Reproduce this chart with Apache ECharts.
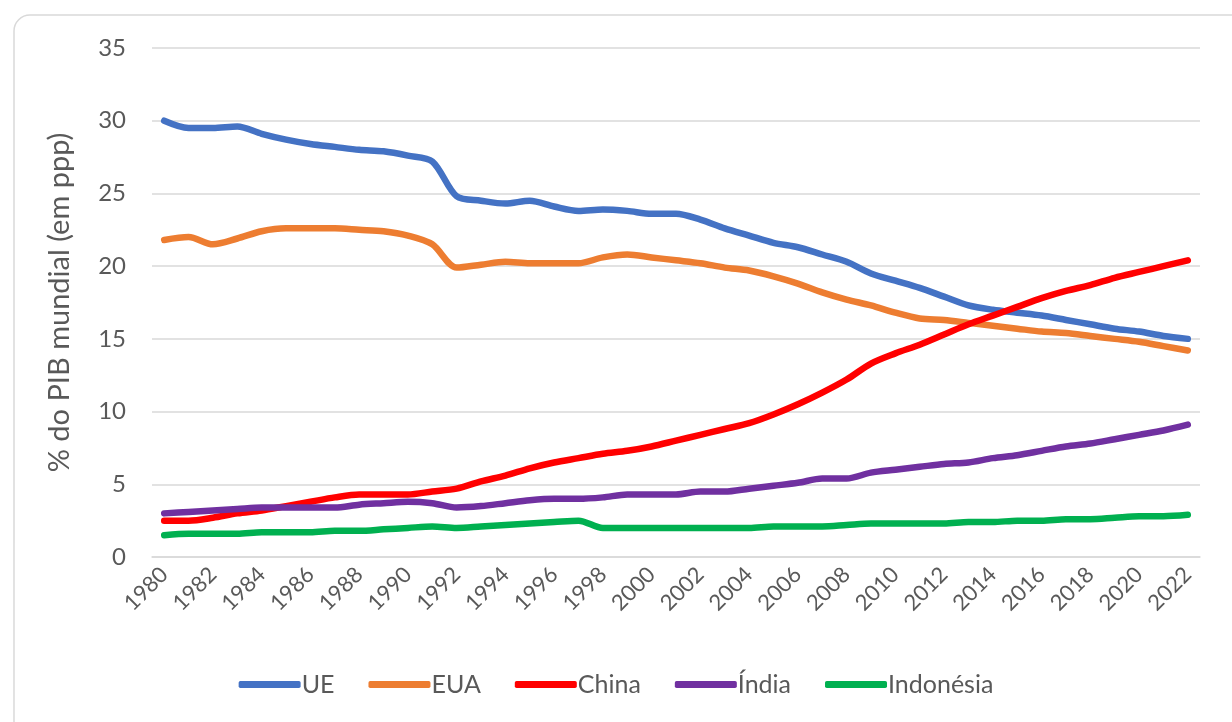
<!DOCTYPE html>
<html>
<head>
<meta charset="utf-8">
<script src="https://cdn.jsdelivr.net/npm/echarts@6/dist/echarts.min.js"></script>
<style>
  html, body { margin: 0; padding: 0; background: #fff; }
  #chart { width: 1232px; height: 722px; }
</style>
</head>
<body>
<div id="chart"></div>
<script>
// anos 1980..2022
var years = [];
for (var y = 1980; y <= 2022; y++) years.push(String(y));

var ue = [30.0, 29.5, 29.5, 29.6, 29.1, 28.7, 28.4, 28.2, 28.0, 27.9, 27.6, 27.2,
  24.8, 24.5, 24.3, 24.5, 24.1, 23.8, 23.9, 23.8, 23.6, 23.6, 23.2, 22.6, 22.1,
  21.6, 21.3, 20.8, 20.3, 19.5, 19.0, 18.5, 17.9, 17.3, 17.0, 16.8, 16.6, 16.3,
  16.0, 15.7, 15.5, 15.2, 15.0];
var eua = [21.8, 22.0, 21.5, 21.9, 22.4, 22.6, 22.6, 22.6, 22.5, 22.4, 22.1, 21.5,
  19.9, 20.1, 20.3, 20.2, 20.2, 20.2, 20.6, 20.8, 20.6, 20.4, 20.2, 19.9, 19.7,
  19.3, 18.8, 18.2, 17.7, 17.3, 16.8, 16.4, 16.3, 16.1, 15.9, 15.7, 15.5, 15.4,
  15.2, 15.0, 14.8, 14.5, 14.2];
var china = [2.5, 2.5, 2.7, 3.0, 3.2, 3.5, 3.8, 4.1, 4.3, 4.3, 4.3, 4.5,
  4.7, 5.2, 5.6, 6.1, 6.5, 6.8, 7.1, 7.3, 7.6, 8.0, 8.4, 8.8, 9.2,
  9.8, 10.5, 11.3, 12.2, 13.3, 14.0, 14.6, 15.3, 16.0, 16.6, 17.2, 17.8, 18.3,
  18.7, 19.2, 19.6, 20.0, 20.4];
var india = [3.0, 3.1, 3.2, 3.3, 3.4, 3.4, 3.4, 3.4, 3.6, 3.7, 3.8, 3.7,
  3.4, 3.5, 3.7, 3.9, 4.0, 4.0, 4.1, 4.3, 4.3, 4.3, 4.5, 4.5, 4.7,
  4.9, 5.1, 5.4, 5.4, 5.8, 6.0, 6.2, 6.4, 6.5, 6.8, 7.0, 7.3, 7.6,
  7.8, 8.1, 8.4, 8.7, 9.1];
var indonesia = [1.5, 1.6, 1.6, 1.6, 1.7, 1.7, 1.7, 1.8, 1.8, 1.9, 2.0, 2.1,
  2.0, 2.1, 2.2, 2.3, 2.4, 2.5, 2.0, 2.0, 2.0, 2.0, 2.0, 2.0, 2.0,
  2.1, 2.1, 2.1, 2.2, 2.3, 2.3, 2.3, 2.3, 2.4, 2.4, 2.5, 2.5, 2.6,
  2.6, 2.7, 2.8, 2.8, 2.9];

var names = ['UE', 'EUA', 'China', 'Índia', 'Indonésia'];
var cores = ['#4472C4', '#ED7D31', '#FF0000', '#7030A0', '#00B050'];
var valores = [ue, eua, china, india, indonesia];

var myChart = echarts.init(document.getElementById('chart'));
var fonte = 'Lato, "Open Sans", sans-serif';

var option = {
  animation: false,
  color: cores,
  textStyle: { fontFamily: fonte },
  graphic: [{
    type: 'rect',
    shape: { x: 14, y: 15, width: 1250, height: 740, r: 16 },
    style: { fill: 'none', stroke: '#d9d9d9', lineWidth: 1.5 },
    z: -1
  }],
  grid: { left: 152, right: 32, top: 48, bottom: 165 },
  legend: {
    bottom: 20,
    left: 'center',
    itemWidth: 62,
    itemHeight: 7,
    itemGap: 34,
    icon: 'roundRect',
    textStyle: { color: '#595959', fontSize: 25, fontFamily: fonte, padding: [0, 0, 0, -4] },
    data: names
  },
  xAxis: {
    type: 'category',
    data: years,
    boundaryGap: true,
    axisLine: { show: true, lineStyle: { color: '#d9d9d9', width: 1.5 } },
    axisTick: { show: false },
    axisLabel: {
      interval: 1,
      rotate: 45,
      color: '#595959',
      fontSize: 22,
      margin: 14
    }
  },
  yAxis: {
    type: 'value',
    min: 0,
    max: 35,
    interval: 5,
    name: '% do PIB mundial (em ppp)',
    nameLocation: 'middle',
    nameGap: 78,
    nameTextStyle: { color: '#595959', fontSize: 29 },
    axisLine: { show: false },
    axisTick: { show: false },
    axisLabel: { color: '#595959', fontSize: 24, margin: 26 },
    splitLine: { lineStyle: { color: '#d9d9d9', width: 1.5 } }
  },
  series: names.map(function (n, i) {
    return {
      name: n,
      type: 'line',
      data: valores[i],
      smooth: 0.3,
      symbol: 'none',
      lineStyle: { width: 6.5, color: cores[i], cap: 'round', join: 'round' }
    };
  })
};

myChart.setOption(option);
</script>
</body>
</html>
